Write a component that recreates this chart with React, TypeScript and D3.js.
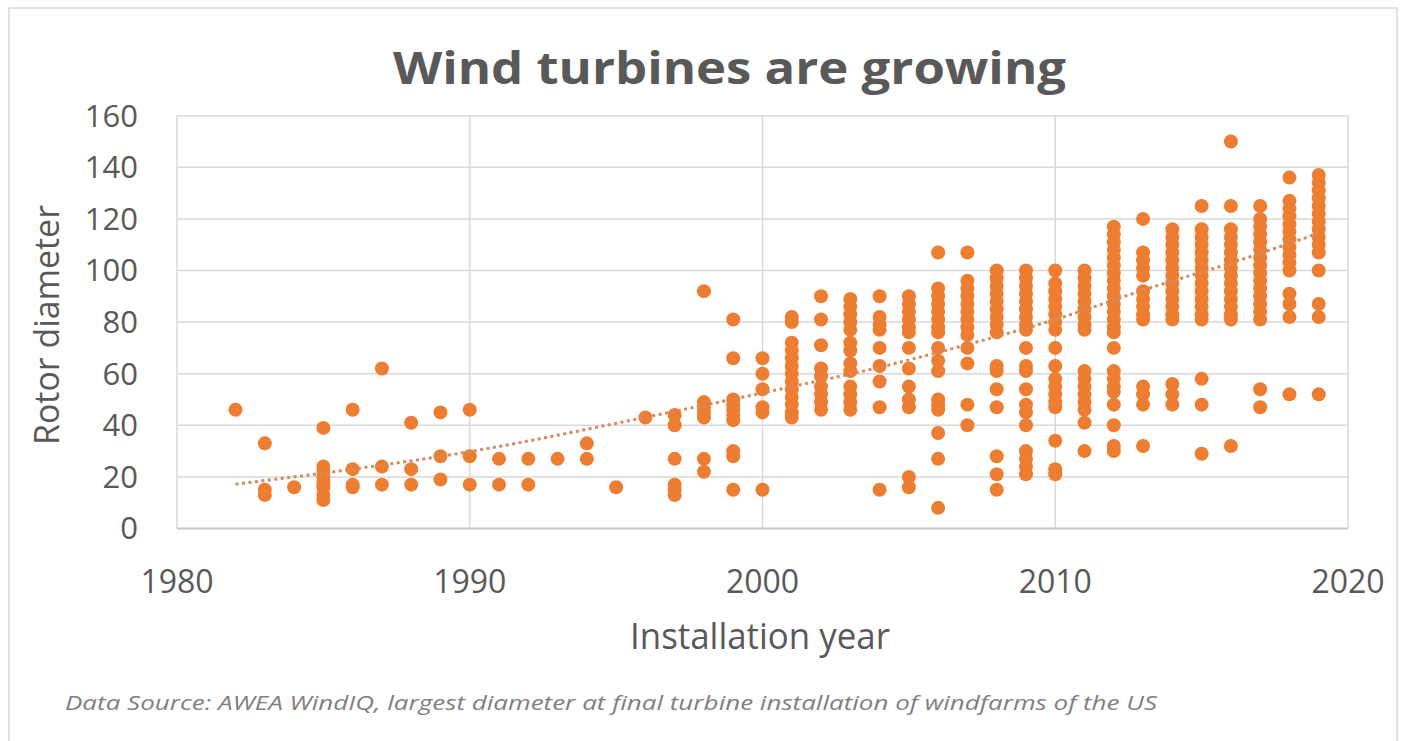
import React from "react";
import * as d3 from "d3";

// ---------- data ----------
const years: number[] = [
  1982, 1983, 1984, 1985, 1986, 1987, 1988, 1989, 1990, 1991, 1992, 1993, 1994,
  1995, 1996, 1997, 1998, 1999, 2000, 2001, 2002, 2003, 2004, 2005, 2006, 2007,
  2008, 2009, 2010, 2011, 2012, 2013, 2014, 2015, 2016, 2017, 2018, 2019,
];

const diametersByYear: number[][] = [
  [46],
  [33, 15, 13],
  [16],
  [39, 24, 22, 20, 18, 16, 13, 11],
  [46, 23, 17, 16],
  [62, 24, 17],
  [41, 23, 17],
  [45, 28, 19],
  [46, 28, 17],
  [27, 17],
  [27, 17],
  [27],
  [33, 27],
  [16],
  [43],
  [44, 40, 27, 17, 15, 13],
  [92, 49, 47, 45, 43, 27, 22],
  [81, 66, 50, 48, 46, 44, 42, 30, 28, 15],
  [66, 60, 54, 47, 45, 15],
  [82, 80, 72, 69, 66, 63, 60, 57, 54, 51, 48, 45, 43],
  [90, 81, 71, 62, 59, 55, 52, 49, 46],
  [89, 86, 83, 80, 77, 72, 69, 64, 61, 55, 52, 49, 46],
  [90, 82, 79, 77, 70, 63, 57, 47, 15],
  [90, 87, 84, 81, 78, 76, 70, 62, 55, 50, 47, 20, 16],
  [107, 93, 90, 87, 84, 81, 78, 76, 70, 65, 61, 50, 48, 46, 37, 27, 8],
  [107, 96, 93, 90, 87, 84, 81, 78, 75, 70, 64, 48, 40],
  [100, 97, 94, 91, 88, 85, 82, 79, 76, 63, 61, 54, 47, 28, 21, 15],
  [100, 97, 94, 91, 88, 85, 82, 79, 77, 70, 63, 61, 54, 48, 45, 40, 30, 27, 24, 21],
  [100, 95, 92, 89, 86, 83, 80, 77, 70, 63, 58, 55, 52, 49, 47, 34, 23, 21],
  [100, 97, 94, 91, 88, 85, 82, 79, 77, 61, 58, 55, 52, 49, 46, 41, 30],
  [117, 114, 111, 108, 105, 102, 99, 96, 93, 90, 87, 84, 81, 78, 76, 70, 61, 58, 55, 53, 48, 40, 32, 30],
  [120, 107, 104, 101, 98, 92, 89, 86, 83, 81, 55, 52, 48, 32],
  [116, 113, 110, 107, 104, 101, 98, 95, 92, 89, 86, 83, 81, 56, 52, 48],
  [125, 116, 113, 110, 107, 104, 101, 98, 95, 92, 89, 86, 83, 81, 58, 48, 29],
  [150, 125, 116, 113, 110, 107, 104, 101, 98, 95, 92, 89, 86, 83, 81, 32],
  [125, 120, 117, 114, 111, 108, 105, 102, 99, 96, 93, 90, 87, 84, 81, 54, 47],
  [136, 127, 124, 121, 118, 115, 112, 109, 106, 103, 100, 91, 87, 82, 52],
  [137, 134, 131, 128, 125, 122, 119, 116, 113, 110, 107, 100, 87, 82, 52],
];

// trendline (polynomial trend as drawn in the reference), read at several years
const trendYears: number[] = [1982, 1986, 1990, 1996, 2000.6, 2004, 2007, 2010, 2013.2, 2016.3, 2019];
const trendValues: number[] = [17.2, 23.0, 29.8, 43.1, 54.0, 62.5, 71.3, 81.0, 93.1, 104.0, 114.5];

const xTicks: number[] = [1980, 1990, 2000, 2010, 2020];
const yTicks: number[] = [0, 20, 40, 60, 80, 100, 120, 140, 160];

const titleText = "Wind turbines are growing";
const xAxisTitle = "Installation year";
const yAxisTitle = "Rotor diameter";
const sourceNote =
  "Data Source: AWEA WindIQ, largest diameter at final turbine installation of windfarms of the US";

type Pt = { year: number; d: number };

export default function App() {
  const W = 1402;
  const H = 741;
  const font = "'Open Sans', 'DejaVu Sans', sans-serif";
  const textColor = "#595959";
  const orange = "#ED7D31";

  const x = d3.scaleLinear().domain([1980, 2020]).range([177, 1348]);
  const y = d3.scaleLinear().domain([0, 160]).range([528.5, 115.7]);

  const points: Pt[] = [];
  years.forEach((yr, i) => diametersByYear[i].forEach((d) => points.push({ year: yr, d })));

  const trendPts = trendYears.map((yr, i) => [yr, trendValues[i]] as [number, number]);
  const trendPath = d3
    .line<[number, number]>()
    .x((p) => x(p[0]))
    .y((p) => y(p[1]))
    .curve(d3.curveMonotoneX)(trendPts) as string;

  const [x0, x1] = x.range();
  const [yb, yt] = y.range();

  return (
    <div style={{ position: "absolute", left: 0, top: 0 }}>
      <svg width={W} height={H} style={{ display: "block", background: "#ffffff" }}>
        <rect x={0} y={0} width={W} height={H} fill="#ffffff" />
        {/* chart frame */}
        <rect x={9} y={8} width={1388} height={760} fill="none" stroke="#d9d9d9" strokeWidth={1.5} />

        {/* gridlines */}
        {yTicks.map((t) => (
          <line
            key={"hy" + t}
            x1={x0}
            x2={x1}
            y1={y(t)}
            y2={y(t)}
            stroke={t === 0 ? "#c6c6c6" : "#d9d9d9"}
            strokeWidth={t === 0 ? 2.2 : 1.5}
          />
        ))}
        {xTicks.map((t) => (
          <line key={"vx" + t} x1={x(t)} x2={x(t)} y1={yt} y2={yb} stroke="#d9d9d9" strokeWidth={1.5} />
        ))}

        {/* y tick labels */}
        {yTicks.map((t) => (
          <text
            key={"ly" + t}
            x={138}
            y={y(t)}
            dy="0.35em"
            textAnchor="end"
            fontFamily={font}
            fontSize={31}
            fill={textColor}
          >
            {t}
          </text>
        ))}
        {/* x tick labels */}
        {xTicks.map((t) => (
          <text
            key={"lx" + t}
            x={x(t)}
            y={593}
            textAnchor="middle"
            fontFamily={font}
            fontSize={32}
            fill={textColor}
          >
            {t}
          </text>
        ))}

        {/* points */}
        {points.map((p, i) => (
          <circle key={"p" + i} cx={x(p.year)} cy={y(p.d)} r={7} fill={orange} />
        ))}

        {/* trendline */}
        <path d={trendPath} fill="none" stroke="#d58a5e" strokeWidth={3} strokeDasharray="3 3.5" />

        {/* title */}
        <text
          x={729.5}
          y={84}
          textAnchor="middle"
          fontFamily={font}
          fontWeight={700}
          fontSize={45}
          fill={textColor}
          textLength={673}
          lengthAdjust="spacingAndGlyphs"
        >
          {titleText}
        </text>

        {/* axis titles */}
        <text
          x={760}
          y={649}
          textAnchor="middle"
          fontFamily={font}
          fontSize={36}
          fill={textColor}
          textLength={260}
          lengthAdjust="spacingAndGlyphs"
        >
          {xAxisTitle}
        </text>
        <text
          transform="translate(59,325) rotate(-90)"
          textAnchor="middle"
          fontFamily={font}
          fontSize={35}
          fill={textColor}
          textLength={240}
          lengthAdjust="spacingAndGlyphs"
        >
          {yAxisTitle}
        </text>

        {/* source note */}
        <text
          x={65}
          y={710}
          fontFamily={font}
          fontStyle="italic"
          fontSize={20}
          fill="#808080"
          textLength={1092}
          lengthAdjust="spacingAndGlyphs"
        >
          {sourceNote}
        </text>
      </svg>
    </div>
  );
}
